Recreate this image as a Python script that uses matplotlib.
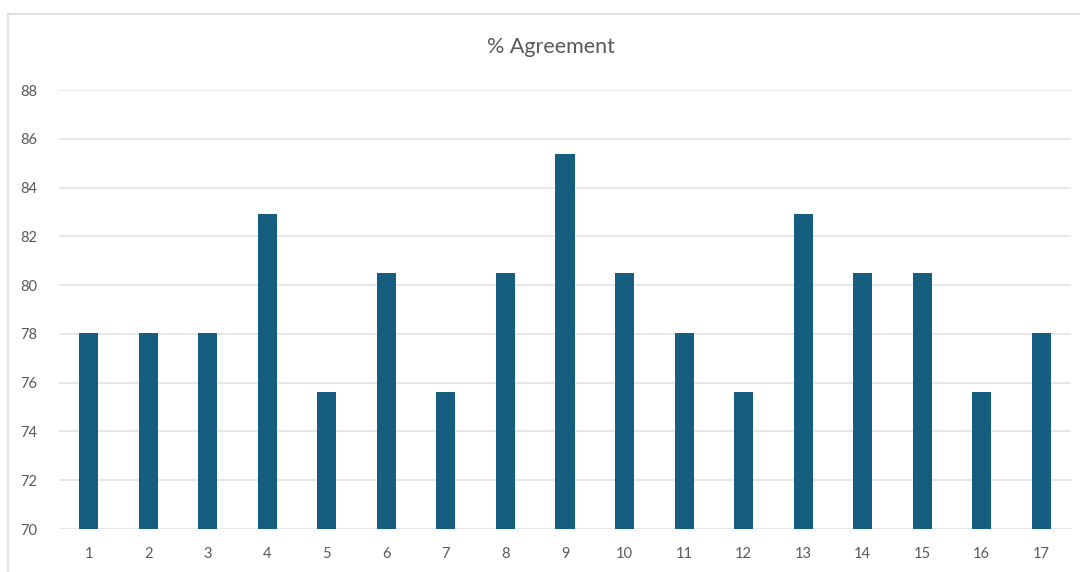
import matplotlib
matplotlib.use("Agg")
import matplotlib.pyplot as plt
from matplotlib.lines import Line2D

categories = [str(i) for i in range(1, 18)]
agreement = [78.05, 78.05, 78.05, 82.93, 75.61, 80.49, 75.61, 80.49, 85.37,
             80.49, 78.05, 75.61, 82.93, 80.49, 80.49, 75.61, 78.05]
y_ticks = [70, 72, 74, 76, 78, 80, 82, 84, 86, 88]

plt.rcParams['font.family'] = ['Lato', 'DejaVu Sans']

fig = plt.figure(figsize=(10.8, 5.72), dpi=100)
ax = fig.add_axes([59/1080, 1 - 529/572, (1071 - 59)/1080, (529 - 90)/572])

x = range(len(categories))
ax.bar(x, [v - 70 for v in agreement], bottom=70, width=0.32, color='#165E7F',
       zorder=3)
ax.set_xlim(-0.5, len(categories) - 0.5)
ax.set_ylim(70, 88)
ax.set_yticks(y_ticks)
ax.set_xticks(list(x))
ax.set_xticklabels(categories)
ax.grid(axis='y', color='#E3E3E3', linewidth=1.2, zorder=0)
for s in ax.spines.values():
    s.set_visible(False)
ax.tick_params(axis='both', length=0, colors='#595959', labelsize=10.5)
ax.tick_params(axis='y', pad=16)
ax.tick_params(axis='x', pad=13)

fig.text(551/1080, 1 - 47/572, '% Agreement', ha='center', va='center',
         fontsize=15.5, color='#595959')

# chart border (left and top)
fig.add_artist(Line2D([8/1080, 8/1080], [0, 1 - 14/572], transform=fig.transFigure,
                      color='#D9D9D9', linewidth=1.2))
fig.add_artist(Line2D([8/1080, 1], [1 - 14/572, 1 - 14/572], transform=fig.transFigure,
                      color='#D9D9D9', linewidth=1.2))

fig.savefig('out.png', dpi=100)
